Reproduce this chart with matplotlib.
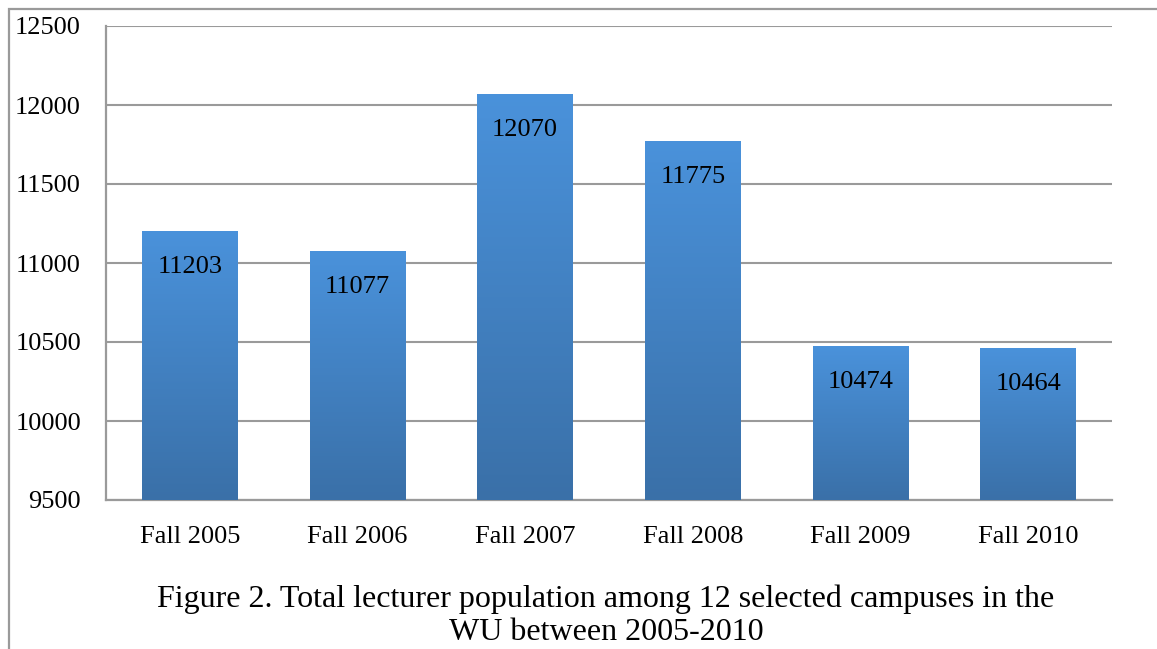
import numpy as np
import matplotlib.pyplot as plt
from matplotlib.patches import Rectangle
from matplotlib.colors import LinearSegmentedColormap

plt.rcParams['font.family'] = ['Liberation Serif', 'DejaVu Serif']

# data
terms = ['Fall 2005', 'Fall 2006', 'Fall 2007', 'Fall 2008', 'Fall 2009', 'Fall 2010']
lecturers = [11203, 11077, 12070, 11775, 10474, 10464]
y_ticks = [9500, 10000, 10500, 11000, 11500, 12000, 12500]

fig = plt.figure(figsize=(11.57, 6.49), dpi=100)
ax = fig.add_axes([106 / 1157, 1 - 500 / 649, 1006 / 1157, 474 / 649])

x = np.arange(len(terms))
bars = ax.bar(x, lecturers, width=0.57, color='#4a8fd4', zorder=2)

# vertical gradient on each bar (light on top, darker at base)
cmap = LinearSegmentedColormap.from_list('bluegrad', ['#3a70a8', '#4a92db'])
grad = np.linspace(0, 1, 256).reshape(-1, 1)
for b in bars:
    x0, w, h = b.get_x(), b.get_width(), b.get_height()
    im = ax.imshow(grad, cmap=cmap, aspect='auto', origin='lower',
                   extent=[x0, x0 + w, 9500, h], zorder=3)
    im.set_clip_path(b)

for xi, v in zip(x, lecturers):
    ax.annotate(str(v), (xi, v), xytext=(0, -26), textcoords='offset points',
                ha='center', va='center', fontsize=19, zorder=4)

ax.set_xlim(-0.5, len(terms) - 0.5)
ax.set_ylim(9500, 12500)
ax.set_yticks(y_ticks)
ax.set_xticks(x)
ax.set_xticklabels(terms)
ax.tick_params(axis='both', length=0, labelsize=19)
ax.tick_params(axis='y', pad=18)
ax.tick_params(axis='x', pad=19)
ax.yaxis.grid(True, color='#9a9a9a', linewidth=1.5, zorder=1)
ax.set_axisbelow(True)
for s in ['top', 'right']:
    ax.spines[s].set_visible(False)
for s in ['left', 'bottom']:
    ax.spines[s].set_color('#9a9a9a')
    ax.spines[s].set_linewidth(1.6)

fig.text(606 / 1157, 1 - 616 / 649,
         'Figure 2. Total lecturer population among 12 selected campuses in the\nWU between 2005-2010',
         ha='center', va='center', fontsize=23, linespacing=1.2)

# outer chart border (left and top edges visible)
fig.patches.append(Rectangle((9 / 1157, -0.1), 1.2, 1 - 9 / 649 + 0.1,
                             transform=fig.transFigure, fill=False,
                             edgecolor='#9a9a9a', linewidth=1.6))

plt.savefig('out.png', dpi=100)
